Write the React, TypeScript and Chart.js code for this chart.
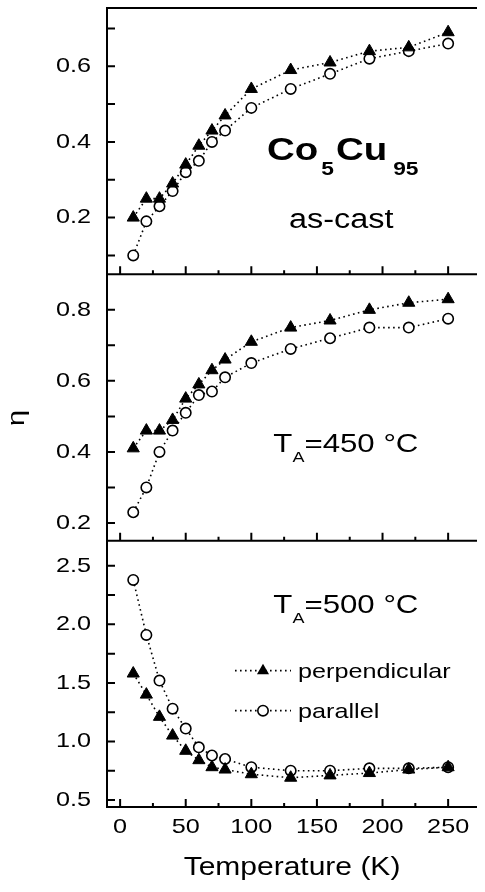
import React, { useEffect, useRef } from 'react';
import { Chart, registerables } from 'chart.js';

Chart.register(...registerables);

// ---- data ----
const temperatures = [10, 20, 30, 40, 50, 60, 70, 80, 100, 130, 160, 190, 220, 250];
const asCastPerp = [0.2, 0.25, 0.25, 0.29, 0.34, 0.39, 0.43, 0.47, 0.54, 0.59, 0.61, 0.64, 0.65, 0.69];
const asCastPar = [0.1, 0.19, 0.23, 0.27, 0.32, 0.35, 0.4, 0.43, 0.49, 0.54, 0.58, 0.62, 0.64, 0.66];
const ta450Perp = [0.41, 0.46, 0.46, 0.49, 0.55, 0.59, 0.63, 0.66, 0.71, 0.75, 0.77, 0.8, 0.82, 0.83];
const ta450Par = [0.23, 0.3, 0.4, 0.46, 0.51, 0.56, 0.57, 0.61, 0.65, 0.69, 0.72, 0.75, 0.75, 0.775];
const ta500Perp = [1.58, 1.4, 1.21, 1.05, 0.92, 0.84, 0.78, 0.76, 0.72, 0.69, 0.71, 0.73, 0.76, 0.78];
const ta500Par = [2.38, 1.91, 1.52, 1.28, 1.11, 0.95, 0.88, 0.85, 0.78, 0.75, 0.75, 0.77, 0.77, 0.78];

const seriesLabels = ['perpendicular', 'parallel'];
const xTicks = [0, 50, 100, 150, 200, 250];
const xMinorTicks = [25, 75, 125, 175, 225];
const topTicks = [0.2, 0.4, 0.6];
const topMinorTicks = [0.1, 0.3, 0.5, 0.7];
const midTicks = [0.2, 0.4, 0.6, 0.8];
const midMinorTicks = [0.3, 0.5, 0.7];
const botTicks = [0.5, 1.0, 1.5, 2.0, 2.5];
const botMinorTicks = [0.75, 1.25, 1.75, 2.25];

const xTitle = 'Temperature (K)';
const yTitle = 'η';

const FAMILY = '"Liberation Sans", Arial, Helvetica, sans-serif';
const STRETCH = 1.2;

function stretchText(ctx: any) {
  if (ctx.__stretched) return;
  const orig = ctx.fillText.bind(ctx);
  ctx.fillText = (text: string, x: number, y: number, maxWidth?: number) => {
    ctx.save();
    ctx.translate(x, y);
    ctx.scale(STRETCH, 1);
    if (maxWidth !== undefined && maxWidth !== null) orig(text, 0, 0, maxWidth);
    else orig(text, 0, 0);
    ctx.restore();
  };
  ctx.__stretched = true;
}

const panels = [
  { id: 'yTop', major: topTicks, minor: topMinorTicks },
  { id: 'yMid', major: midTicks, minor: midMinorTicks },
  { id: 'yBot', major: botTicks, minor: botMinorTicks },
];

function drawTriangle(ctx: any, x: number, y: number, r: number) {
  ctx.beginPath();
  ctx.moveTo(x, y - r);
  ctx.lineTo(x + r * Math.sin((2 * Math.PI) / 3), y - r * Math.cos((2 * Math.PI) / 3));
  ctx.lineTo(x + r * Math.sin((4 * Math.PI) / 3), y - r * Math.cos((4 * Math.PI) / 3));
  ctx.closePath();
  ctx.fillStyle = '#000';
  ctx.fill();
}
function drawCircle(ctx: any, x: number, y: number, r: number) {
  ctx.beginPath();
  ctx.arc(x, y, r, 0, Math.PI * 2);
  ctx.fillStyle = '#fff';
  ctx.fill();
  ctx.lineWidth = 1.6;
  ctx.strokeStyle = '#000';
  ctx.stroke();
}

const framePlugin = {
  id: 'frame',
  afterDraw(chart: any) {
    const { ctx, chartArea: ca, scales } = chart;
    const xs = scales.x;
    ctx.save();
    ctx.strokeStyle = '#000';
    ctx.lineWidth = 2;
    ctx.setLineDash([]);
    ctx.beginPath();
    ctx.moveTo(ca.left, ca.bottom + 1);
    ctx.lineTo(ca.left, ca.top);
    ctx.lineTo(ca.right, ca.top);
    panels.forEach((p) => {
      const s = scales[p.id];
      ctx.moveTo(ca.left, s.bottom);
      ctx.lineTo(ca.right, s.bottom);
    });
    ctx.stroke();

    // inward ticks
    ctx.beginPath();
    panels.forEach((p) => {
      const s = scales[p.id];
      xTicks.forEach((v) => {
        const px = xs.getPixelForValue(v);
        ctx.moveTo(px, s.bottom);
        ctx.lineTo(px, s.bottom - 8);
      });
      xMinorTicks.forEach((v) => {
        const px = xs.getPixelForValue(v);
        ctx.moveTo(px, s.bottom);
        ctx.lineTo(px, s.bottom - 4);
      });
      p.major.concat(p.minor).forEach((v) => {
        const py = s.getPixelForValue(v);
        ctx.moveTo(ca.left, py);
        ctx.lineTo(ca.left + 8, py);
      });
    });
    ctx.stroke();

    // y title
    ctx.fillStyle = '#000';
    ctx.font = `24px ${FAMILY}`;
    ctx.textAlign = 'center';
    ctx.textBaseline = 'middle';
    ctx.save();
    ctx.translate(17, 418);
    ctx.rotate(-Math.PI / 2);
    ctx.fillText(yTitle, 0, 0);
    ctx.restore();

    // panel annotations
    const yTop = scales.yTop;
    const yMid = scales.yMid;
    const yBot = scales.yBot;
    ctx.textAlign = 'left';
    ctx.textBaseline = 'alphabetic';

    // Co5Cu95
    let px = xs.getPixelForValue(112);
    const base = yTop.getPixelForValue(0.353);
    ctx.font = `bold 32px ${FAMILY}`;
    ctx.fillText('Co', px, base);
    px += ctx.measureText('Co').width * STRETCH + 3;
    ctx.font = `bold 19px ${FAMILY}`;
    ctx.fillText('5', px, base + 15);
    px += ctx.measureText('5').width * STRETCH + 2;
    ctx.font = `bold 32px ${FAMILY}`;
    ctx.fillText('Cu', px, base);
    px += ctx.measureText('Cu').width * STRETCH + 6;
    ctx.font = `bold 19px ${FAMILY}`;
    ctx.fillText('95', px, base + 15);

    // as-cast
    ctx.font = `27px ${FAMILY}`;
    ctx.fillText('as-cast', xs.getPixelForValue(128.7), yTop.getPixelForValue(0.173));

    // T_A labels
    const drawTA = (rest: string, x: number, y: number) => {
      ctx.font = `26px ${FAMILY}`;
      ctx.fillText('T', x, y);
      let p = x + ctx.measureText('T').width * STRETCH;
      ctx.font = `15px ${FAMILY}`;
      ctx.fillText('A', p, y + 10);
      p += ctx.measureText('A').width * STRETCH;
      ctx.font = `26px ${FAMILY}`;
      ctx.fillText(rest, p, y);
    };
    drawTA('=450 °C', xs.getPixelForValue(116.8), yMid.getPixelForValue(0.401));
    drawTA('=500 °C', xs.getPixelForValue(116.8), yBot.getPixelForValue(2.095));

    // legend
    const lx1 = ca.left + 128;
    const lx2 = ca.left + 184;
    const lm = ca.left + 156;
    const rows = [yBot.top + 130, yBot.top + 170];
    rows.forEach((ry, i) => {
      ctx.save();
      ctx.lineWidth = 1.6;
      ctx.setLineDash([1.6, 3.4]);
      ctx.strokeStyle = '#000';
      ctx.beginPath();
      ctx.moveTo(lx1, ry);
      ctx.lineTo(lx2, ry);
      ctx.stroke();
      ctx.restore();
      if (i === 0) drawTriangle(ctx, lm, ry, 7);
      else drawCircle(ctx, lm, ry, 5.2);
      ctx.fillStyle = '#000';
      ctx.font = `21px ${FAMILY}`;
      ctx.textAlign = 'left';
      ctx.textBaseline = 'alphabetic';
      ctx.fillText(seriesLabels[i], ca.left + 191, ry + 7);
    });
    ctx.restore();
  },
};

function mkSet(label: string, values: number[], yAxisID: string, tri: boolean) {
  return {
    label,
    data: temperatures.map((t, i) => ({ x: t, y: values[i] })),
    yAxisID,
    borderColor: '#000',
    borderWidth: 1.6,
    borderDash: [1.6, 3.4],
    fill: false,
    tension: 0,
    pointStyle: tri ? 'triangle' : 'circle',
    pointRadius: tri ? 7 : 5.2,
    pointHoverRadius: tri ? 7 : 5.2,
    pointBackgroundColor: tri ? '#000' : '#fff',
    pointBorderColor: '#000',
    pointBorderWidth: tri ? 1 : 1.6,
  };
}

function yScale(min: number, max: number, ticks: number[]) {
  return {
    type: 'linear',
    position: 'left',
    stack: 'eta',
    stackWeight: 1,
    min,
    max,
    grid: { display: false, drawTicks: false },
    border: { display: false },
    afterBuildTicks: (s: any) => {
      s.ticks = ticks.map((v) => ({ value: v }));
    },
    afterFit: (s: any) => {
      s.width = 107;
      s.paddingTop = 0;
      s.paddingBottom = 0;
      s.paddingLeft = 0;
      s.paddingRight = 0;
    },
    ticks: {
      padding: 16,
      color: '#000',
      font: { size: 21, family: FAMILY },
      callback: (v: number) => Number(v).toFixed(1),
    },
  };
}

export default function App() {
  const ref = useRef<HTMLCanvasElement | null>(null);
  useEffect(() => {
    const canvas = ref.current;
    if (!canvas) return;
    const ctx = canvas.getContext('2d');
    stretchText(ctx);
    const chart = new Chart(canvas, {
      type: 'line',
      data: {
        datasets: [
          mkSet(seriesLabels[0], asCastPerp, 'yTop', true),
          mkSet(seriesLabels[1], asCastPar, 'yTop', false),
          mkSet(seriesLabels[0], ta450Perp, 'yMid', true),
          mkSet(seriesLabels[1], ta450Par, 'yMid', false),
          mkSet(seriesLabels[0], ta500Perp, 'yBot', true),
          mkSet(seriesLabels[1], ta500Par, 'yBot', false),
        ],
      } as any,
      options: {
        animation: false,
        responsive: false,
        maintainAspectRatio: false,
        layout: { padding: { top: 2, left: 0, right: 0, bottom: 0 } },
        plugins: { legend: { display: false }, tooltip: { enabled: false } },
        scales: {
          x: {
            type: 'linear',
            position: 'bottom',
            min: -10,
            max: 272,
            grid: { display: false, drawTicks: false },
            border: { display: false },
            afterBuildTicks: (s: any) => {
              s.ticks = xTicks.map((v) => ({ value: v }));
            },
            afterFit: (s: any) => {
              s.height = 85;
              s.paddingLeft = 0;
              s.paddingRight = 0;
              s.paddingTop = 0;
              s.paddingBottom = 0;
            },
            ticks: {
              padding: 8,
              color: '#000',
              maxRotation: 0,
              autoSkip: false,
              font: { size: 21, family: FAMILY },
              callback: (v: number) => String(v),
            },
            title: {
              display: true,
              text: xTitle,
              color: '#000',
              font: { size: 25, family: FAMILY },
              padding: { top: 0, bottom: 9 },
            },
          },
          // stacked left axes are laid out in reverse order: last key ends up on top
          yBot: yScale(0.44, 2.715, botTicks),
          yMid: yScale(0.15, 0.9, midTicks),
          yTop: yScale(0.05, 0.754, topTicks),
        } as any,
      },
      plugins: [framePlugin],
    });
    return () => chart.destroy();
  }, []);
  return (
    <div style={{ position: 'absolute', left: 0, top: 0, width: 485, height: 892, background: '#fff' }}>
      <canvas ref={ref} width={485} height={892} style={{ width: 485, height: 892, display: 'block' }} />
    </div>
  );
}
